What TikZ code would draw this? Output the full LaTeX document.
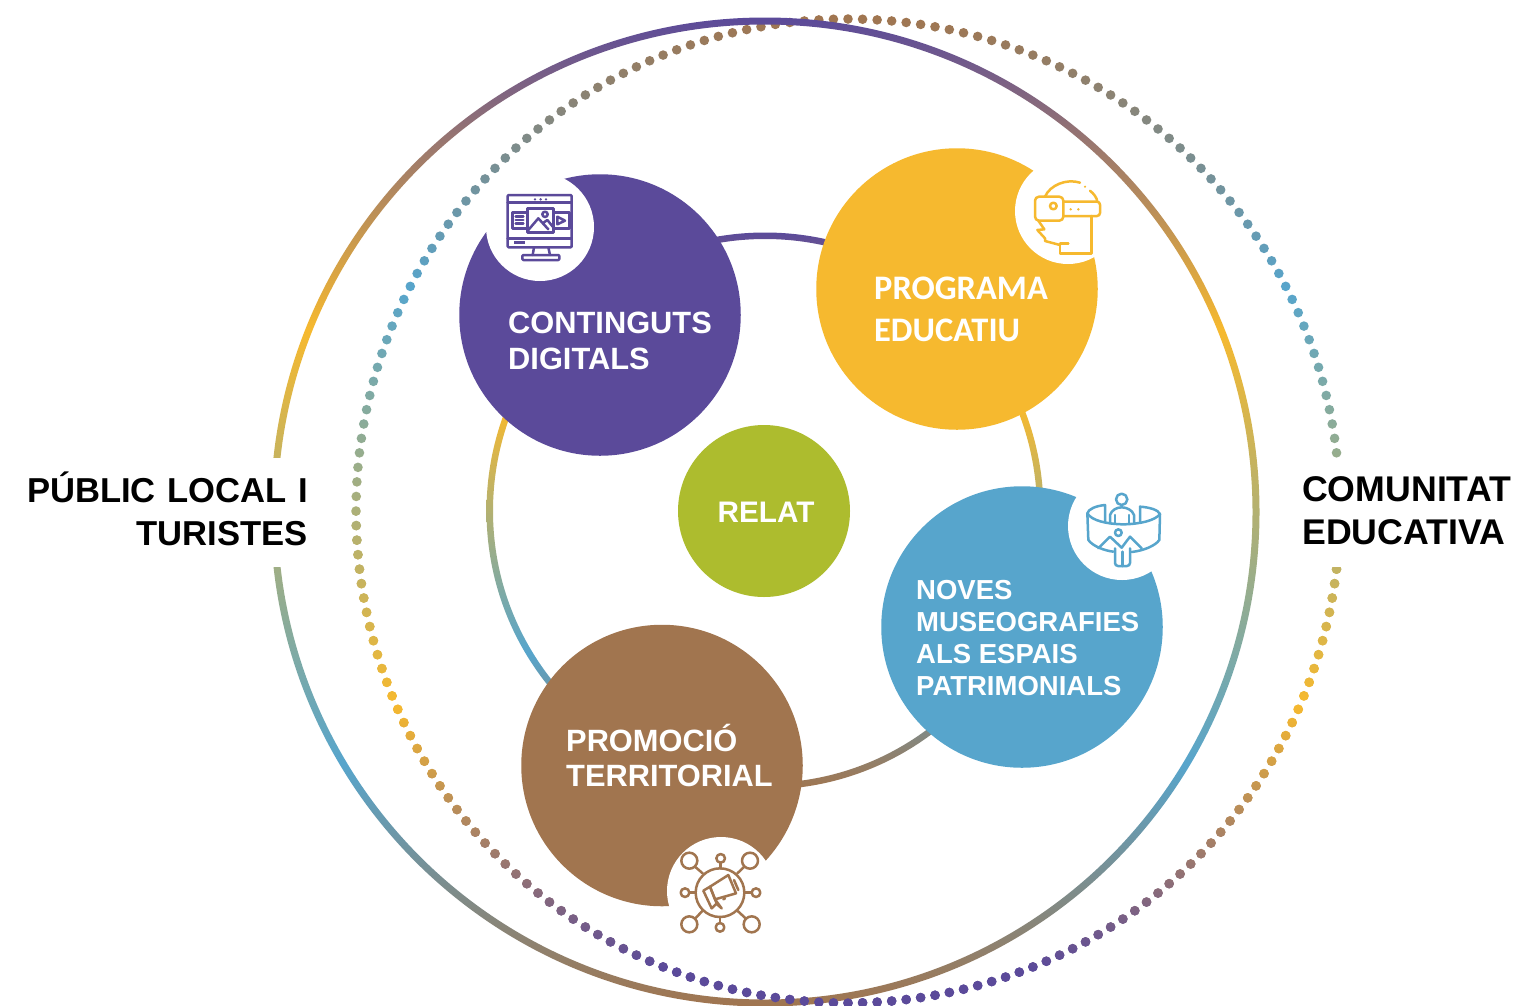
\documentclass[tikz,border=0pt]{standalone}
\usepackage{fontspec}
\setmainfont{Liberation Sans}
\newfontfamily\carlito{Carlito}
\definecolor{cpurple}{HTML}{5B4A9A}
\definecolor{cyellow}{HTML}{F6B92F}
\definecolor{cblue}{HTML}{57A5CC}
\definecolor{cbrown}{HTML}{A1754F}
\definecolor{cgreen}{HTML}{ADBC2E}
\pgfdeclareverticalshading{ringgrad}{100bp}{color(0bp)=(cbrown); color(25bp)=(cbrown); color(37.3bp)=(cblue); color(59.2bp)=(cyellow); color(75bp)=(cpurple); color(100bp)=(cpurple)}
\pgfdeclareverticalshading{dotgrad}{100bp}{color(0bp)=(cpurple); color(27bp)=(cpurple); color(40.3bp)=(cyellow); color(61.2bp)=(cblue); color(75bp)=(cbrown); color(100bp)=(cbrown)}
\newcommand{\dotring}{\shade[shading=dotgrad] \foreach \i in {0,...,211} { ({848+492*cos(\i*1.69811)},{511+492*sin(\i*1.69811)}) circle (4.8) };}
\tikzset{
  x=1pt,y=-1pt,
  bigdisc/.style={circle,inner sep=0pt,minimum size=281.5pt},
  icondisc/.style={circle,fill=white,inner sep=0pt,minimum size=108pt},
  disctext/.style={text=white,align=left,inner sep=0pt,anchor=west},
  sidelabel/.style={inner sep=0pt,text=black,text width=296pt},
  iconline/.style={line width=2.5pt,line join=round,line cap=round},
  zoomed/.style={x=0.33333pt,y=-0.33333pt}
}
\begin{document}
\begin{tikzpicture}
\useasboundingbox (0,0) rectangle (1518,1005);
\fill[white] (0,0) rectangle (1518,1005);
% dotted ring under the solid ring at the top
\dotring
% outer solid ring
\shade[shading=ringgrad,even odd rule] (765,512) circle (494.5) (765,512) circle (487.5);
% dots over the solid ring in the lower half
\begin{scope}
\clip (0,512) rectangle (1518,1005);
\dotring
\end{scope}
% white bands that interrupt the rings at the side labels
\fill[white] (0,458) rectangle (318,567);
\fill[white] (1295,458) rectangle (1518,567);
% side labels
\node[sidelabel,anchor=east,align=right,font=\fontsize{34.6}{43}\selectfont\bfseries] (publiclabel) at (308,509) {PÚBLIC LOCAL I\\TURISTES};
\node[sidelabel,anchor=west,align=left,text width=216pt,font=\fontsize{35.7}{42.5}\selectfont\bfseries] (comunitatlabel) at (1302,510.5) {COMUNITAT\\EDUCATIVA};
% inner ring
\shade[shading=ringgrad,even odd rule] (765,511) circle (278.5) (765,511) circle (272);
% main discs
\node[bigdisc,fill=cpurple] (continguts) at (600,315) {};
\node[bigdisc,fill=cyellow] (programa) at (957,289) {};
\node[bigdisc,fill=cblue] (noves) at (1022,627) {};
\node[bigdisc,fill=cbrown] (promocio) at (662,765.5) {};
\node[circle,fill=cgreen,inner sep=0pt,minimum size=172pt] (relat) at (764,511) {};
% icon discs
\node[icondisc] (iconA) at (540,227) {};
\node[icondisc,minimum size=106pt] (iconB) at (1068,211) {};
\node[icondisc] (iconC) at (1122,526) {};
\node[icondisc] (iconD) at (721,891) {};
% texts
\node[disctext,font=\fontsize{30.8}{35.5}\selectfont\bfseries] (tcontinguts) at (508,341) {CONTINGUTS\\DIGITALS};
\node[disctext,font=\fontsize{34.4}{42}\selectfont\carlito\bfseries] (tprograma) at (874,309.5) {PROGRAMA\\EDUCATIU};
\node[disctext,font=\fontsize{27.5}{31.7}\selectfont\bfseries] (tnoves) at (916,638) {NOVES\\MUSEOGRAFIES\\ALS ESPAIS\\PATRIMONIALS};
\node[disctext,font=\fontsize{30.8}{35.5}\selectfont\bfseries] (tpromocio) at (566,755.5) {PROMOCIÓ\\TERRITORIAL};
\node[text=white,inner sep=0pt,font=\fontsize{29.7}{36}\selectfont\bfseries] (trelat) at (766,512.5) {RELAT};
% icon: screen
\begin{scope}[shift={(470,170)},zoomed,iconline,draw=cpurple]
\draw[rounded corners=1pt] (113,75) rectangle (305,232);
\draw (113,97) -- (305,97) (113,205) -- (305,205);
\fill[cpurple] (195,88) circle (4) (212,88) circle (4) (228,88) circle (4);
\fill[cpurple] (133,213) rectangle (165,222);
\draw (127,127) rectangle (172,175) (137,140) -- (160,140) (137,150) -- (160,150) (137,160) -- (160,160);
\draw (172,115) rectangle (250,188);
\draw (175,180) -- (205,145) -- (235,178) (218,160) -- (232,150) -- (250,172);
\draw (225,133) circle (8);
\draw (250,127) rectangle (298,175);
\draw (262,140) -- (285,152) -- (262,163) -- cycle;
\draw (192,232) -- (188,255) (235,232) -- (240,255);
\draw[rounded corners=1pt] (157,255) rectangle (268,270);
\end{scope}
% icon: VR head
\begin{scope}[shift={(1000,160)},zoomed,iconline,draw=cyellow]
\draw[rounded corners=4pt] (105,110) rectangle (190,182);
\draw[rounded corners=3pt] (190,125) -- (300,125) -- (300,168) -- (190,168);
\draw (160,138) circle (10);
\fill[cyellow] (212,148) circle (4) (235,148) circle (4) (255,80) circle (3.5);
\draw (135,110) .. controls (150,75) and (200,55) .. (240,68);
\draw (270,92) .. controls (282,102) and (290,112) .. (292,125);
\draw (275,168) -- (275,280) -- (180,280) -- (180,250) -- (205,250);
\draw (115,182) -- (133,208) -- (112,210) -- (135,235) -- (135,243) -- (180,255);
\end{scope}
% icon: panoramic screen
\begin{scope}[shift={(1060,480)},zoomed,iconline,draw=cblue]
\draw (185,58) circle (17);
\draw (150,130) -- (150,105) .. controls (155,90) and (170,82) .. (185,82) .. controls (200,82) and (217,90) .. (222,105) -- (222,130);
\draw (165,128) -- (165,105) (207,128) -- (207,105);
\draw (135,125) -- (135,75) .. controls (105,78) and (85,88) .. (82,100) -- (85,180) .. controls (100,200) and (135,212) .. (160,215);
\draw (240,125) -- (240,80) .. controls (270,82) and (295,90) .. (300,102) -- (298,180) .. controls (285,198) and (250,212) .. (215,216);
\draw (82,100) .. controls (95,122) and (140,132) .. (190,133) .. controls (240,132) and (285,122) .. (300,102);
\draw (175,158) circle (10);
\draw (115,205) -- (150,170) -- (185,203) -- (210,170) -- (245,205);
\draw[rounded corners=3pt] (165,205) -- (165,258) -- (210,258) -- (210,205);
\draw (187,215) -- (187,258);
\end{scope}
% icon: megaphone network
\begin{scope}[shift={(660,830)},zoomed,iconline,draw=cbrown]
\draw (180,188) circle (73);
\draw (88,92) circle (24) (270,92) circle (24) (88,283) circle (24) (275,283) circle (24);
\draw (182,85) circle (13) (75,188) circle (13) (288,188) circle (13) (180,292) circle (13);
\draw (105,110) -- (128,130) (253,110) -- (232,130) (105,266) -- (128,242) (258,266) -- (232,242);
\draw (182,98) -- (182,115) (88,188) -- (107,188) (275,188) -- (253,188) (180,279) -- (180,261);
\draw (150,170) -- (205,135) -- (228,190) -- (165,208) -- cycle;
\draw (130,182) -- (150,170) -- (170,220) -- (155,235) -- cycle;
\draw (165,208) -- (185,235) -- (170,222);
\draw (222,150) -- (235,180) (195,205) -- (190,208);
\end{scope}
\end{tikzpicture}
\end{document}
